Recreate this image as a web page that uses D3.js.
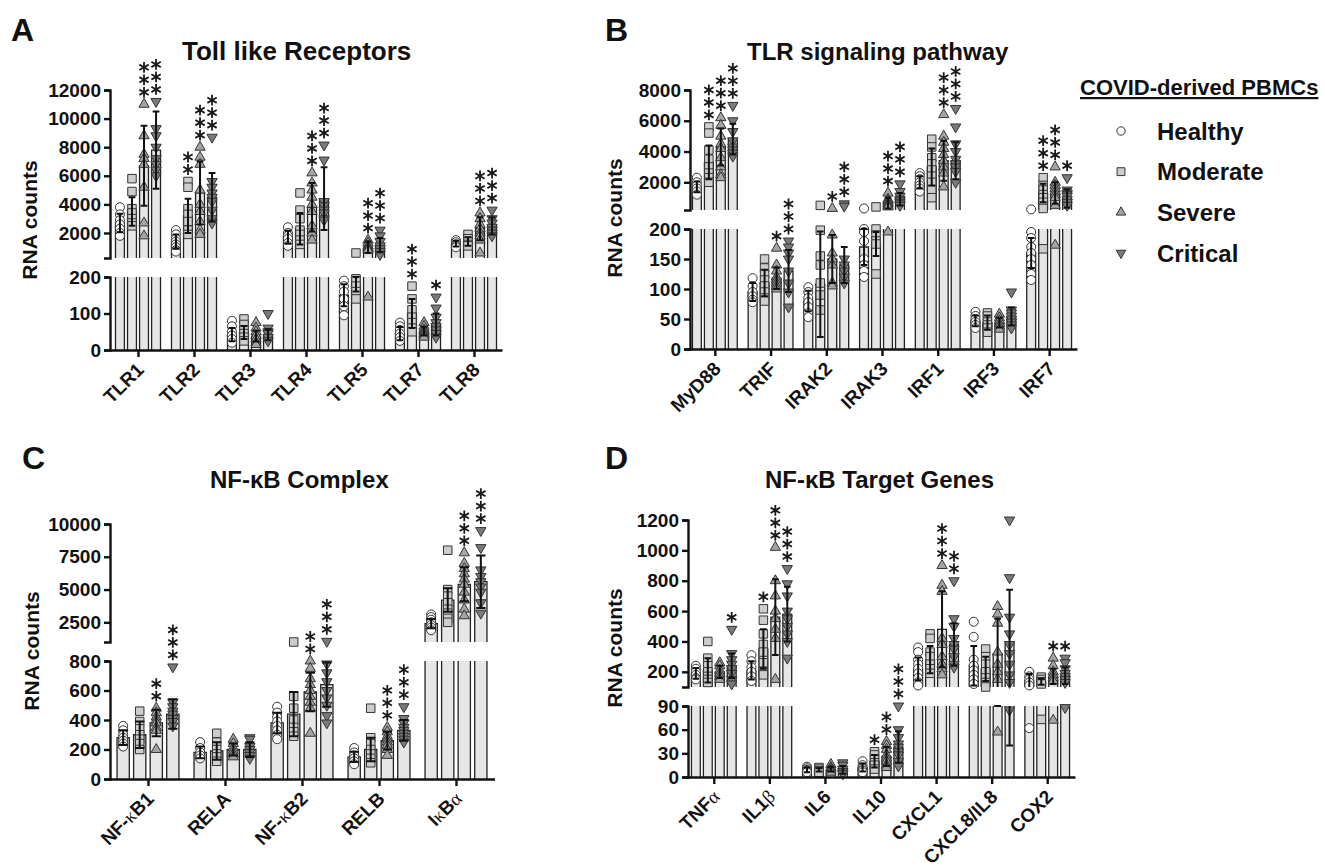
<!DOCTYPE html>
<html>
<head>
<meta charset="utf-8">
<script src="https://cdn.jsdelivr.net/npm/d3@7"></script>
<style>
  body { margin: 0; background: #fff; }
  svg text { font-family: "Liberation Sans", Arial, sans-serif; font-weight: bold; fill: #111; }
</style>
</head>
<body>
<svg id="fig" width="1325" height="868"></svg>
<script>
// Groups (legend order)
const groups = ["Healthy", "Moderate", "Severe", "Critical"];

// ---- Panel A: Toll like Receptors ----
const tlrGenes = ["TLR1", "TLR2", "TLR3", "TLR4", "TLR5", "TLR7", "TLR8"];
const tlrMean = [[2700, 3500, 6700, 7800], [1400, 3200, 4800, 4500], [42, 48, 38, 42], [1700, 2300, 3800, 4400], [150, 180, 1000, 1150], [45, 100, 52, 70], [1250, 1400, 2300, 2500]];
const tlrSD = [[650, 1000, 2800, 2700], [500, 1200, 2200, 1700], [18, 18, 15, 15], [450, 1100, 1700, 2200], [30, 20, 400, 500], [18, 40, 12, 30], [200, 300, 800, 600]];
const tlrStars = [[0, 0, 3, 3], [0, 2, 3, 3], [0, 0, 0, 0], [0, 0, 3, 3], [0, 0, 3, 3], [0, 3, 0, 1], [0, 0, 3, 3]];
const tlrPoints = [
  [[3800, 3300, 2900, 2600, 2300, 2000, 1800], [5800, 4900, 3700, 3400, 3000, 2700, 2500], [11000, 8800, 7500, 7200, 6800, 5200, 2700, 1800], [11200, 9300, 8800, 8000, 7200, 6800, 6400, 6000]],
  [[2200, 1900, 1600, 1400, 1200, 1000, 800, 700], [5600, 5200, 3700, 3300, 2800, 2200, 1900], [8000, 7300, 6800, 5000, 4000, 3500, 2800, 2200, 1900], [8700, 5600, 5200, 4800, 4500, 4200, 3600, 3000, 2700]],
  [[80, 65, 50, 40, 30, 20], [85, 70, 55, 45, 35, 25], [75, 60, 50, 40, 30, 20, 15], [100, 60, 50, 45, 35, 25]],
  [[2400, 2000, 1800, 1600, 1300, 1100], [4800, 3600, 3000, 2200, 1900, 1500, 1200], [6200, 5500, 5000, 4500, 4000, 3500, 2500, 2000, 1500], [8150, 7100, 4200, 3900, 3600, 3400, 3000, 2900]],
  [[190, 175, 160, 140, 120, 95], [600, 195, 190, 175, 160, 140], [1500, 1300, 1100, 1000, 900, 800, 145], [2200, 1800, 1400, 1100, 900, 700, 500]],
  [[75, 65, 55, 45, 35, 25], [175, 140, 110, 90, 75, 60, 50], [75, 65, 55, 50, 45, 40, 35], [145, 115, 90, 75, 65, 55, 45, 35]],
  [[1500, 1350, 1200, 1100, 1000], [1900, 1600, 1400, 1200, 1100], [3400, 3000, 2600, 2300, 2000, 1800, 1500, 600], [3600, 3000, 2700, 2400, 2200, 2000, 1800]]
];
const tlrLowTicks = [0, 100, 200];
const tlrUpTicks = [2000, 4000, 6000, 8000, 10000, 12000];

// ---- Panel B: TLR signaling pathway ----
const sigGenes = ["MyD88", "TRIF", "IRAK2", "IRAK3", "IRF1", "IRF3", "IRF7"];
const sigMean = [[1700, 3300, 4300, 4800], [95, 110, 118, 130], [80, 108, 150, 140], [170, 175, 650, 900], [2000, 3000, 3400, 3400], [47, 44, 44, 54], [160, 1300, 1300, 950]];
const sigSD = [[350, 1100, 1200, 1000], [15, 22, 18, 35], [17, 88, 40, 30], [30, 20, 350, 400], [400, 1200, 1300, 1200], [9, 12, 8, 15], [25, 600, 700, 600]];
const sigStars = [[0, 3, 3, 3], [0, 0, 1, 3], [0, 0, 1, 3], [0, 0, 3, 3], [0, 0, 3, 3], [0, 0, 0, 0], [0, 3, 3, 1]];
const sigPoints = [
  [[2300, 2000, 1800, 1600, 1400, 1200], [5600, 5200, 4100, 3500, 3000, 2600, 2300, 2000], [6200, 5700, 5000, 4500, 4200, 3600, 3000, 2500, 2300], [7000, 6000, 5300, 4700, 4300, 4100, 3900, 3700]],
  [[118, 105, 95, 88, 82, 78], [150, 135, 125, 115, 105, 95, 85, 80], [168, 140, 130, 120, 115, 110, 105, 100], [180, 170, 160, 150, 130, 110, 95, 70]],
  [[103, 95, 85, 78, 70, 60, 53], [500, 198, 155, 140, 110, 90, 65], [300, 190, 160, 150, 140, 110, 105], [600, 450, 150, 140, 130, 120, 110]],
  [[300, 200, 195, 180, 150, 140, 130, 120], [400, 200, 190, 180, 175, 125], [1300, 900, 800, 700, 600, 500, 400, 195], [1900, 1400, 1100, 900, 800, 700, 600, 500]],
  [[2600, 2400, 2200, 2000, 1800, 1600, 1400], [4800, 4300, 3600, 3200, 2800, 2400, 2000, 1500, 1000], [6400, 5000, 4600, 4200, 3800, 3400, 3000, 2600, 1700], [6800, 5600, 4500, 4000, 3500, 3200, 3000, 2700, 2000]],
  [[62, 55, 50, 45, 40, 35], [60, 55, 45, 40, 35, 28], [58, 52, 47, 42, 38, 33], [95, 65, 60, 55, 50, 45, 40, 35]],
  [[240, 195, 185, 170, 160, 150, 140, 125, 115], [2300, 1800, 1500, 1200, 1000, 700, 300, 167], [3000, 2000, 1800, 1600, 1400, 1200, 1000, 500, 173], [2300, 1500, 1300, 1200, 1100, 900, 700, 500]]
];
const sigLowTicks = [0, 50, 100, 150, 200];
const sigUpTicks = [2000, 4000, 6000, 8000];

// ---- Panel C: NF-kB Complex ----
const nfkbGenes = ["NF-κB1", "RELA", "NF-κB2", "RELB", "IκBα"];
const nfkbMean = [[280, 300, 380, 440], [180, 190, 200, 200], [380, 440, 590, 640], [150, 200, 260, 330], [2400, 4200, 5400, 5600]];
const nfkbSD = [[50, 90, 90, 100], [40, 60, 40, 50], [70, 150, 130, 150], [35, 80, 60, 70], [350, 900, 1300, 2000]];
const nfkbStars = [[0, 0, 2, 3], [0, 0, 0, 0], [0, 0, 2, 3], [0, 0, 3, 3], [0, 0, 3, 3]];
const nfkbPoints = [
  [[360, 330, 300, 280, 260, 240, 220], [460, 390, 340, 300, 270, 240, 200], [480, 450, 420, 400, 380, 350, 330, 200], [760, 520, 490, 460, 440, 410, 390, 360]],
  [[250, 210, 180, 160, 140], [310, 250, 200, 170, 150, 120], [270, 240, 210, 190, 170, 150], [280, 270, 220, 200, 180, 160, 140]],
  [[490, 450, 420, 390, 360, 330, 300, 270], [1000, 560, 480, 400, 350, 320, 290], [800, 750, 680, 640, 600, 560, 520, 480, 310], [1050, 780, 720, 660, 600, 550, 500, 430, 380]],
  [[210, 180, 160, 140, 120, 100], [480, 280, 240, 200, 170, 140, 110], [350, 320, 290, 270, 250, 230, 200, 160], [490, 410, 380, 350, 330, 310, 290, 270, 250]],
  [[3100, 2900, 2700, 2500, 2300, 2100, 1900], [8000, 5000, 4500, 4000, 3500, 3200, 2800, 2500], [7800, 7000, 6600, 6200, 5800, 5400, 4800, 4200, 3500, 3000], [9500, 8200, 6500, 6000, 5600, 5200, 4800, 4000, 3200]]
];
const nfkbLowTicks = [0, 200, 400, 600, 800];
const nfkbUpTicks = [2500, 5000, 7500, 10000];

// ---- Panel D: NF-kB Target Genes ----
const tgtGenes = ["TNFα", "IL1β", "IL6", "IL10", "CXCL1", "CXCL8/IL8", "COX2"];
const tgtMean = [[190, 210, 200, 240], [210, 350, 560, 580], [9, 9, 10, 9], [12, 20, 26, 38], [220, 280, 480, 380], [240, 220, 320, 390], [140, 135, 170, 175]];
const tgtSD = [[35, 80, 40, 80], [60, 130, 250, 180], [3, 2, 3, 5], [5, 8, 12, 20], [75, 90, 250, 140], [130, 80, 230, 350], [45, 20, 50, 55]];
const tgtStars = [[0, 0, 0, 1], [0, 1, 3, 3], [0, 0, 0, 0], [0, 1, 2, 3], [0, 0, 3, 2], [0, 0, 0, 0], [0, 0, 1, 1]];
const tgtPoints = [
  [[240, 220, 200, 180, 160, 150], [400, 290, 240, 200, 170, 150, 130], [260, 240, 210, 190, 170, 150], [480, 320, 280, 250, 220, 190, 150, 120]],
  [[310, 270, 230, 200, 170, 140], [615, 540, 450, 380, 330, 260, 200, 180], [1020, 800, 700, 600, 550, 480, 420, 150], [880, 780, 700, 600, 550, 500, 450, 400, 290]],
  [[13, 11, 9, 8, 6], [12, 10, 8, 7, 6], [16, 12, 10, 8, 6], [18, 15, 10, 7, 5, 4]],
  [[20, 15, 12, 10, 8, 6], [32, 28, 22, 18, 15, 10], [45, 40, 35, 28, 24, 20, 15, 12], [90, 60, 50, 42, 38, 32, 28, 20, 14]],
  [[360, 330, 280, 250, 220, 190, 160, 130, 110], [450, 420, 330, 300, 250, 220, 190], [900, 770, 730, 420, 380, 300, 250, 220, 180], [800, 550, 500, 420, 380, 350, 300, 250, 230]],
  [[530, 430, 280, 240, 210, 180, 150, 120], [350, 300, 250, 200, 160, 130, 100], [630, 580, 520, 330, 250, 200, 150, 57], [1200, 820, 560, 450, 380, 320, 250, 180, 130, 85]],
  [[200, 170, 150, 130, 110, 62], [165, 150, 135, 120, 73], [290, 240, 200, 180, 160, 140, 72], [290, 260, 220, 190, 170, 150, 130, 88]]
];
const tgtLowTicks = [0, 30, 60, 90];
const tgtUpTicks = [200, 400, 600, 800, 1000, 1200];

// Styling
const symFill = ["#ffffff", "#cdcdcd", "#a4a4a4", "#7a7a7a"];
const symStroke = "#333";
const barFill = "#e6e6e6";

const svg = d3.select("#fig");

function markerPath(k, scale) {
  const s = scale || 1;
  if (k === 0) return d3.symbol(d3.symbolCircle, 64 * s)();
  if (k === 1) return d3.symbol(d3.symbolSquare, 72 * s)();
  return d3.symbol(d3.symbolTriangle, 46 * s)();
}

// six armed asterisk glyph
function asteriskPath(r) {
  let p = "";
  [90, 30, 150].forEach(a => {
    const t = a * Math.PI / 180, dx = r * Math.cos(t), dy = r * Math.sin(t);
    p += `M${-dx},${dy}L${dx},${-dy}`;
  });
  return p;
}

// Greek letters are set thin, like the symbol font in the figure
function richText(sel, str) {
  const parts = str.match(/[α-ω]+|[^α-ω]+/g);
  parts.forEach(s => {
    const t = sel.append("tspan").text(s);
    if (/[α-ω]/.test(s)) t.attr("font-weight", "normal").attr("font-family", "Liberation Serif");
  });
}

function drawPanel(p) {
  const g = svg.append("g");
  const x = d3.scalePoint().domain(p.genes).range(p.xRange).padding(0.5);
  const step = x.step(), pitch = step * 0.215, bw = pitch * 0.74;
  const yLo = d3.scaleLinear().domain(p.lowDomain).range(p.lowRange);
  const yHi = d3.scaleLinear().domain(p.upDomain).range(p.upRange);
  const lowMax = p.lowDomain[1], upMin = p.upDomain[0];
  const base = yLo(0);
  const y = v => v <= lowMax ? yLo(v) : (v >= upMin ? yHi(v) : (v - lowMax < upMin - v ? yLo(lowMax) : yHi(upMin)));
  const cxOf = (gene, k) => x(gene) + (k - 1.5) * pitch;

  // bars
  const bars = g.append("g");
  p.genes.forEach((gene, i) => {
    p.mean[i].forEach((m, k) => {
      const cx = cxOf(gene, k), x0 = cx - bw / 2, x1 = cx + bw / 2;
      if (m <= lowMax) {
        bars.append("rect").attr("x", x0).attr("y", yLo(m)).attr("width", bw).attr("height", base - yLo(m)).attr("fill", barFill);
        bars.append("path").attr("d", `M${x0},${base}V${yLo(m)}H${x1}V${base}`);
      } else {
        const top = yLo(lowMax);
        bars.append("rect").attr("x", x0).attr("y", top).attr("width", bw).attr("height", base - top).attr("fill", barFill);
        bars.append("path").attr("d", `M${x0},${base}V${top}M${x1},${top}V${base}`);
        const ub = yHi(upMin), ut = yHi(m);
        bars.append("rect").attr("x", x0).attr("y", ut).attr("width", bw).attr("height", ub - ut).attr("fill", barFill);
        bars.append("path").attr("d", `M${x0},${ub}V${ut}H${x1}V${ub}`);
      }
    });
  });
  bars.selectAll("path").attr("fill", "none").attr("stroke", "#222").attr("stroke-width", 1.3);

  // individual points
  const pts = g.append("g");
  p.genes.forEach((gene, i) => {
    p.points[i].forEach((vals, k) => {
      pts.selectAll(null).data(vals).join("path")
        .attr("d", markerPath(k, p.mscale))
        .attr("transform", v => `translate(${cxOf(gene, k)},${y(v)})${k === 3 ? " rotate(180)" : ""}`)
        .attr("fill", symFill[k]).attr("stroke", symStroke).attr("stroke-width", 1);
    });
  });

  // SD error bars
  const err = g.append("g").attr("stroke", "#111").attr("stroke-width", 2).attr("fill", "none");
  const cap = bw * 0.38;
  p.genes.forEach((gene, i) => {
    p.mean[i].forEach((m, k) => {
      const cx = cxOf(gene, k);
      const lo = Math.max(0, m - p.sd[i][k]), hi = m + p.sd[i][k];
      let d = "";
      if (lo < lowMax) d += `M${cx},${yLo(lo)}V${yLo(Math.min(hi, lowMax))}`;
      if (hi > upMin) d += `M${cx},${yHi(Math.max(lo, upMin))}V${yHi(hi)}`;
      [lo, hi].forEach(v => {
        if (v <= lowMax || v >= upMin) d += `M${cx - cap},${y(v)}H${cx + cap}`;
      });
      err.append("path").attr("d", d);
    });
  });

  // significance stars
  const st = g.append("g").attr("stroke", "#1a1a1a").attr("stroke-width", 1.8).attr("fill", "none");
  p.genes.forEach((gene, i) => {
    p.stars[i].forEach((n, k) => {
      if (!n) return;
      const top = Math.max(d3.max(p.points[i][k]), p.mean[i][k] + p.sd[i][k]);
      const y0 = y(top) - 12;
      for (let j = 0; j < n; j++) {
        st.append("path").attr("d", asteriskPath(5.4)).attr("transform", `translate(${cxOf(gene, k)},${y0 - j * 12.5})`);
      }
    });
  });

  // axes
  const fmt = d3.format("d");
  const axLo = g.append("g").attr("transform", `translate(${p.yAxisX},0)`)
    .call(d3.axisLeft(yLo).tickValues(p.lowTicks).tickFormat(fmt).tickSize(6).tickSizeOuter(6).tickPadding(3));
  const axHi = g.append("g").attr("transform", `translate(${p.yAxisX},0)`)
    .call(d3.axisLeft(yHi).tickValues(p.upTicks).tickFormat(fmt).tickSize(6).tickSizeOuter(6).tickPadding(3));
  const axX = g.append("g").attr("transform", `translate(0,${base})`)
    .call(d3.axisBottom(x).tickSize(7).tickSizeOuter(0).tickFormat(""));
  [axLo, axHi, axX].forEach(a => {
    a.attr("font-family", null).attr("font-size", null);
    a.selectAll("path, line").attr("stroke", "#111").attr("stroke-width", 2.4);
    a.selectAll("text").attr("font-size", 19).attr("fill", "#111");
  });

  // rotated gene labels
  p.genes.forEach(gene => {
    const t = g.append("text")
      .attr("transform", `translate(${x(gene) + 7},${base + 21}) rotate(-45)`)
      .attr("text-anchor", "end").attr("font-size", 19);
    richText(t, gene);
  });

  // y label, title, panel letter
  g.append("text").attr("transform", `translate(${p.yLabel[0]},${p.yLabel[1]}) rotate(-90)`)
    .attr("text-anchor", "middle").attr("font-size", 21).text("RNA counts");
  g.append("text").attr("x", p.title[0]).attr("y", p.title[1]).attr("font-size", p.titleSize || 24).text(p.titleText);
  g.append("text").attr("x", p.letter[0]).attr("y", p.letter[1]).attr("font-size", 32).text(p.letterText);
}

drawPanel({
  genes: tlrGenes, mean: tlrMean, sd: tlrSD, stars: tlrStars, points: tlrPoints,
  lowTicks: tlrLowTicks, upTicks: tlrUpTicks,
  xRange: [110, 502], yAxisX: 110,
  lowDomain: [0, 200], lowRange: [350, 277], upDomain: [250, 12000], upRange: [258, 90],
  yLabel: [37, 220], title: [182, 60], titleSize: 26, titleText: "Toll like Receptors", letter: [11, 41], letterText: "A"
});
drawPanel({
  genes: sigGenes, mean: sigMean, sd: sigSD, stars: sigStars, points: sigPoints,
  lowTicks: sigLowTicks, upTicks: sigUpTicks,
  xRange: [687, 1077], yAxisX: 690,
  lowDomain: [0, 200], lowRange: [349, 229], upDomain: [200, 8000], upRange: [210, 90],
  yLabel: [622, 218], title: [747, 60], titleText: "TLR signaling pathway", letter: [605, 41], letterText: "B"
});
drawPanel({
  genes: nfkbGenes, mean: nfkbMean, sd: nfkbSD, stars: nfkbStars, points: nfkbPoints,
  lowTicks: nfkbLowTicks, upTicks: nfkbUpTicks,
  xRange: [109.5, 494.5], yAxisX: 110,
  lowDomain: [0, 800], lowRange: [779, 661], upDomain: [1000, 10000], upRange: [642, 524],
  yLabel: [39, 651], title: [210, 488], titleText: "NF-κB Complex", letter: [22, 469], letterText: "C"
});
drawPanel({
  genes: tgtGenes, mean: tgtMean, sd: tgtSD, stars: tgtStars, points: tgtPoints,
  lowTicks: tgtLowTicks, upTicks: tgtUpTicks,
  xRange: [686, 1075], yAxisX: 688,
  lowDomain: [0, 90], lowRange: [777, 706], upDomain: [100, 1200], upRange: [687, 520],
  yLabel: [622, 648], title: [765, 488], titleText: "NF-κB Target Genes", letter: [605, 469], letterText: "D"
});

// legend
const leg = svg.append("g");
leg.append("text").attr("x", 1080).attr("y", 95).attr("font-size", 22)
  .attr("text-decoration", "underline").text("COVID-derived PBMCs");
const legY = d3.scalePoint().domain(groups).range([131, 253]);
groups.forEach((name, k) => {
  leg.append("path").attr("d", markerPath(k, 0.85))
    .attr("transform", `translate(1121,${legY(name)})${k === 3 ? " rotate(180)" : ""}`)
    .attr("fill", symFill[k]).attr("stroke", symStroke).attr("stroke-width", 1);
  leg.append("text").attr("x", 1157).attr("y", legY(name) + 8.5).attr("font-size", 24).text(name);
});
</script>
</body>
</html>
